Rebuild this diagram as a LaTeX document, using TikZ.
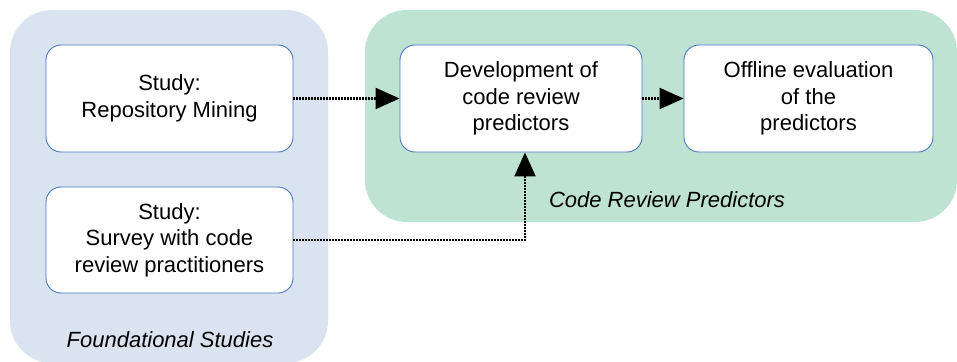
\documentclass[tikz,border=0pt]{standalone}
\usepackage{fontspec}
\setmainfont{Liberation Sans}
\usetikzlibrary{arrows.meta}
\definecolor{groupblue}{RGB}{218,227,240}
\definecolor{groupgreen}{RGB}{191,227,211}
\definecolor{boxline}{RGB}{74,118,192}
\tikzset{
  group/.style={rounded corners=42pt},
  stagebox/.style={draw=boxline, line width=0.9pt, fill=white, rounded corners=15pt,
    align=center, inner sep=0pt, font=\fontsize{22}{26.5}\selectfont},
  grouplabel/.style={font=\fontsize{22}{26.5}\selectfont\itshape},
  flow/.style={line width=2.3pt, dash pattern=on 2pt off 1pt,
    -{Triangle[length=24pt,width=21pt]}}
}
\begin{document}
\begin{tikzpicture}[x=1pt,y=-1pt]
\useasboundingbox (0,0) rectangle (957,361);

% group backgrounds
\fill[groupblue, group] (10,10) rectangle (328,363);
\fill[groupgreen, group] (365,10) rectangle (957,222);

% stages
\node[stagebox, minimum width=247pt, minimum height=107pt] (mining) at (169.5,98.5)
  {Study:\\Repository Mining};
\node[stagebox, minimum width=247pt, minimum height=106pt] (survey) at (169.5,240)
  {Study:\\Survey with code\\review practitioners};
\node[stagebox, minimum width=242pt, minimum height=107pt] (develop) at (521,98.5)
  {Development of\\code review\\predictors};
\node[stagebox, minimum width=249pt, minimum height=107pt] (offline) at (808.5,98.5)
  {Offline evaluation\\of the\\predictors};

% group captions
\node[grouplabel] (predlabel) at (667,200) {Code Review Predictors};
\node[grouplabel] (foundlabel) at (170,340) {Foundational Studies};

% connectors
\coordinate (turn) at (525,240);
\draw[flow] (mining.east) -- (develop.west);
\draw[flow] (develop.east) -- (offline.west);
\draw[flow] (survey.east) -- (turn) -- (turn |- develop.south);
\end{tikzpicture}
\end{document}
